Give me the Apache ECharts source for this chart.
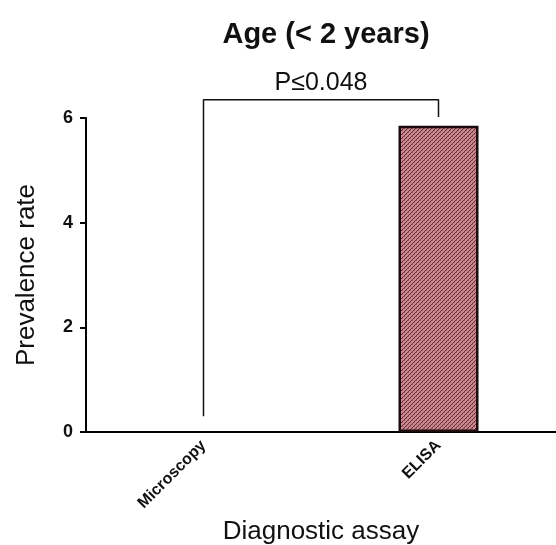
<!DOCTYPE html>
<html>
<head>
<meta charset="utf-8">
<script src="https://cdn.jsdelivr.net/npm/echarts@6/dist/echarts.min.js"></script>
<style>
  html, body { margin: 0; padding: 0; background: #fff; }
  #chart { width: 556px; height: 545px; }
</style>
</head>
<body>
<div id="chart"></div>
<script>
// Prevalence by diagnostic assay, age group under 2 years
const categories = ['Microscopy', 'ELISA'];
const prevalence = [0, 5.85];
const yTicks = [0, 2, 4, 6];

// Significance bracket between the two assays
const bracketLabel = 'P\u22640.048';
const bracketTop = 6.35;
const bracketLeftFoot = 0.3;
const bracketRightFoot = 6.02;

// Cross-hatched fill for the bars
function hatchPattern() {
  const c = document.createElement('canvas');
  c.width = 4; c.height = 4;
  const g = c.getContext('2d');
  g.fillStyle = '#c98c93';
  g.fillRect(0, 0, 4, 4);
  g.fillStyle = '#6e2e36';
  for (let i = 0; i < 4; i++) {
    g.fillRect(i, 3 - i, 1, 1);
  }
  g.fillStyle = '#a25a63';
  g.fillRect(0, 0, 1, 1);
  g.fillRect(2, 2, 1, 1);
  return c;
}

const chart = echarts.init(document.getElementById('chart'));
const font = "'Liberation Sans', Arial, sans-serif";
const pattern = hatchPattern();

chart.setOption({
  animation: false,
  title: {
    text: 'Age (< 2 years)',
    left: 321,
    top: 15,
    textAlign: 'center',
    textStyle: { fontFamily: font, fontSize: 29, fontWeight: 'bold', color: '#111' }
  },
  grid: {
    left: 86, right: 0, top: 118, bottom: 113,
    containLabel: false,
    outerBoundsMode: 'none'
  },
  xAxis: {
    type: 'category',
    data: categories,
    name: 'Diagnostic assay',
    nameLocation: 'middle',
    nameGap: 84,
    nameTextStyle: { fontFamily: font, fontSize: 26, color: '#111' },
    axisLine: { lineStyle: { color: '#000', width: 2 } },
    axisTick: { alignWithLabel: true, length: 7, lineStyle: { color: '#000', width: 2 } },
    axisLabel: {
      rotate: 45,
      margin: 11,
      fontFamily: font,
      fontSize: 16,
      fontWeight: 'bold',
      color: '#111'
    }
  },
  yAxis: {
    type: 'value',
    min: 0,
    max: 6,
    interval: 2,
    name: 'Prevalence rate',
    nameLocation: 'middle',
    nameGap: 46,
    nameTextStyle: { fontFamily: font, fontSize: 26, color: '#111' },
    axisLine: { show: true, lineStyle: { color: '#000', width: 2 } },
    axisTick: { show: true, length: 6, lineStyle: { color: '#000', width: 2 } },
    axisLabel: {
      margin: 13,
      fontFamily: font,
      fontSize: 18,
      fontWeight: 'bold',
      color: '#111',
      formatter: v => (yTicks.includes(v) ? String(v) : '')
    },
    splitLine: { show: false }
  },
  series: [
    {
      type: 'bar',
      data: prevalence.map(v => ({
        value: v,
        itemStyle: { borderWidth: v === 0 ? 0 : 2.5 }
      })),
      barWidth: 80,
      itemStyle: {
        color: { image: pattern, repeat: 'repeat' },
        borderColor: '#1a0a0c',
        borderWidth: 2.5
      },
      z: 2
    },
    {
      type: 'line',
      data: [
        [categories[0], bracketLeftFoot],
        [categories[0], bracketTop],
        [categories[1], bracketTop],
        [categories[1], bracketRightFoot]
      ],
      symbol: 'none',
      clip: false,
      lineStyle: { color: '#111', width: 1.5 },
      silent: true,
      z: 3
    }
  ]
});

// Place the p-value label centred above the bracket
const left = chart.convertToPixel({ seriesIndex: 1 }, [categories[0], bracketTop]);
const right = chart.convertToPixel({ seriesIndex: 1 }, [categories[1], bracketTop]);
chart.setOption({
  graphic: [{
    type: 'text',
    x: (left[0] + right[0]) / 2,
    y: left[1] - 4,
    style: {
      text: bracketLabel,
      fontFamily: font,
      fontSize: 25,
      fill: '#111',
      align: 'center',
      verticalAlign: 'bottom'
    }
  }]
});
</script>
</body>
</html>
